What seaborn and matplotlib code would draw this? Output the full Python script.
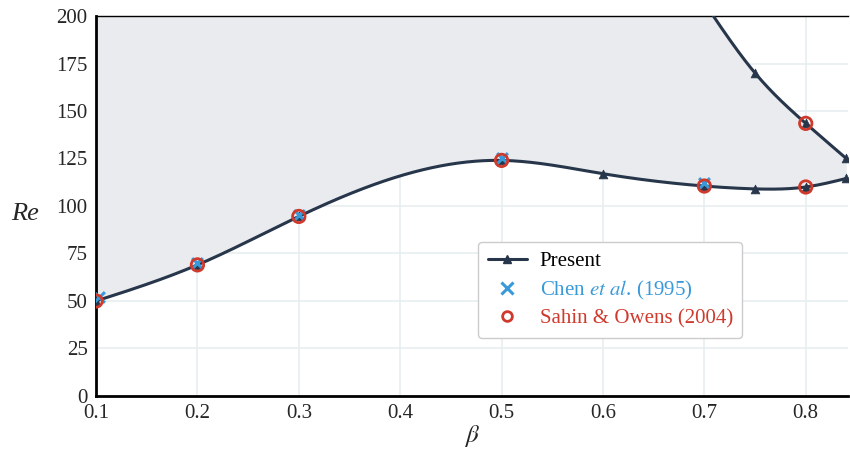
import numpy as np
import pandas as pd
import matplotlib
matplotlib.use("Agg")
import matplotlib.pyplot as plt
import seaborn as sns

# ---- data ----
lower_beta = [0.1, 0.2, 0.3, 0.5, 0.6, 0.7, 0.75, 0.8, 0.84]
lower_re = [50, 69, 94.5, 124, 117, 110.5, 109, 110, 114.5]
upper_beta = [0.7, 0.75, 0.8, 0.84]
upper_re = [207, 170, 143.5, 125]

chen_beta = [0.103, 0.2, 0.3, 0.5, 0.7]
chen_re = [52, 70, 95.5, 125, 112]
sahin_beta = [0.1, 0.2, 0.3, 0.5, 0.7, 0.8, 0.8]
sahin_re = [50, 69, 94.5, 124, 110.5, 110, 143.5]

x_ticks = [0.1, 0.2, 0.3, 0.4, 0.5, 0.6, 0.7, 0.8]
y_ticks = [0, 25, 50, 75, 100, 125, 150, 175, 200]


def nat_spline(x, y, xs):
    x = np.asarray(x, float); y = np.asarray(y, float)
    n = len(x); h = np.diff(x)
    A = np.zeros((n, n)); b = np.zeros(n)
    A[0, 0] = A[-1, -1] = 1
    for i in range(1, n - 1):
        A[i, i - 1] = h[i - 1]; A[i, i] = 2 * (h[i - 1] + h[i]); A[i, i + 1] = h[i]
        b[i] = 3 * ((y[i + 1] - y[i]) / h[i] - (y[i] - y[i - 1]) / h[i - 1])
    c = np.linalg.solve(A, b)
    bc = (y[1:] - y[:-1]) / h - h * (2 * c[:-1] + c[1:]) / 3
    d = (c[1:] - c[:-1]) / (3 * h)
    idx = np.clip(np.searchsorted(x, xs) - 1, 0, n - 2)
    dx = xs - x[idx]
    return y[idx] + bc[idx] * dx + c[idx] * dx ** 2 + d[idx] * dx ** 3


sns.set_theme(style="white")
plt.rcParams["font.family"] = ["Liberation Serif", "DejaVu Serif"]
plt.rcParams["mathtext.fontset"] = "stix"

LINE = "#27364a"
BLUE = "#3a9ad9"
RED = "#cf3a2c"

fig = plt.figure(figsize=(8.5, 4.51), dpi=100)
ax = fig.add_axes([0.113, 0.122, 0.885, 0.8425])

xl = np.linspace(lower_beta[0], lower_beta[-1], 600)
yl = nat_spline(lower_beta, lower_re, xl)
xu = np.linspace(upper_beta[0], upper_beta[-1], 300)
yu = nat_spline(upper_beta, upper_re, xu)

# shaded unstable region
top = np.full_like(xl, 200.0)
mask = xl >= upper_beta[0]
top[mask] = np.minimum(200, np.interp(xl[mask], xu, yu))
ax.fill_between(xl, yl, top, color="#e9ebee", lw=0, zorder=1)

ax.grid(True, color="#e8edf1", lw=1.2, zorder=0)
ax.set_axisbelow(True)

sns.lineplot(x=xl, y=yl, ax=ax, color=LINE, lw=2.2, zorder=3)
sns.lineplot(x=xu, y=yu, ax=ax, color=LINE, lw=2.2, zorder=3)
pts = pd.DataFrame({"b": lower_beta + upper_beta, "r": lower_re + upper_re})
sns.scatterplot(data=pts, x="b", y="r", ax=ax, marker="^", s=40, color=LINE,
                edgecolor=LINE, zorder=4)
sns.scatterplot(x=chen_beta, y=chen_re, ax=ax, marker="x", s=60, color=BLUE,
                linewidth=2.2, zorder=5)
sns.scatterplot(x=sahin_beta, y=sahin_re, ax=ax, marker="o", s=80,
                facecolor="none", edgecolor=RED, linewidth=2, zorder=6)

ax.set_xlim(0.1, 0.842)
ax.set_ylim(0, 200)
ax.set_xticks(x_ticks)
ax.set_xticklabels([f"{v:.1f}" for v in x_ticks])
ax.set_yticks(y_ticks)
ax.tick_params(axis="both", labelsize=15, length=0, pad=6)

for s in ["left", "bottom"]:
    ax.spines[s].set_color("black"); ax.spines[s].set_linewidth(2)
ax.spines["top"].set_color("black"); ax.spines["top"].set_linewidth(1)
ax.spines["right"].set_visible(False)

ax.set_xlabel(r"$\beta$", fontsize=18, labelpad=0)
ax.set_ylabel("Re", fontsize=19, style="italic", rotation=0, labelpad=0)
ax.yaxis.set_label_coords(-0.095, 0.45)

from matplotlib.lines import Line2D
handles = [
    Line2D([], [], color=LINE, lw=2.2, marker="^", ms=6),
    Line2D([], [], color=BLUE, lw=0, marker="x", ms=8, mew=2.2),
    Line2D([], [], color=RED, lw=0, marker="o", ms=7, mfc="none", mew=2),
]
labels = ["Present", r"Chen $\mathit{et\ al}$. (1995)", "Sahin & Owens (2004)"]
leg = ax.legend(handles, labels, loc="lower left", bbox_to_anchor=(0.508, 0.153),
                borderaxespad=0, fontsize=15, frameon=True, fancybox=True,
                edgecolor="#cccccc", framealpha=1, handlelength=1.9,
                handletextpad=0.6, borderpad=0.45, labelspacing=0.35)
for t, c in zip(leg.get_texts(), ["black", BLUE, RED]):
    t.set_color(c)

fig.savefig("out.png", dpi=100)
